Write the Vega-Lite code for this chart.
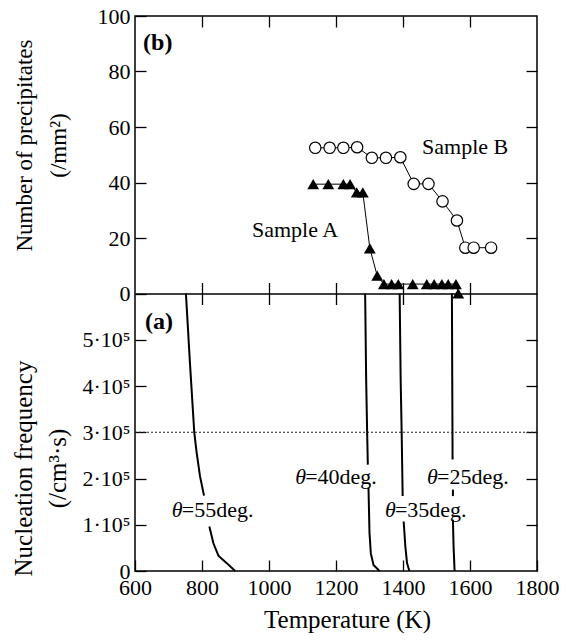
{
  "$schema": "https://vega.github.io/schema/vega-lite/v6.json",
  "autosize": {"type": "none"},
  "width": 402,
  "height": 555,
  "padding": {"left": 135, "top": 16, "right": 33, "bottom": 70},
  "background": "white",
  "config": {
    "font": "Liberation Serif",
    "view": {"stroke": "black", "strokeWidth": 1.5},
    "axis": {
      "grid": false,
      "labelColor": "black",
      "titleColor": "black",
      "tickColor": "black",
      "domainColor": "black",
      "labelFontSize": 22,
      "titleFontSize": 23,
      "titleFontWeight": "normal",
      "tickWidth": 1.3,
      "domain": false,
      "labelOverlap": false,
      "labelFlush": false
    }
  },
  "datasets": {
    "sampleB": [
      {"T": 1138, "n": 52.5}, {"T": 1181, "n": 52.5}, {"T": 1222, "n": 52.5}, {"T": 1263, "n": 52.7},
      {"T": 1307, "n": 48.9}, {"T": 1349, "n": 48.9}, {"T": 1392, "n": 49.1}, {"T": 1432, "n": 39.5},
      {"T": 1476, "n": 39.5}, {"T": 1518, "n": 33.2}, {"T": 1561, "n": 26.3}, {"T": 1586, "n": 16.5},
      {"T": 1611, "n": 16.5}, {"T": 1663, "n": 16.5}
    ],
    "sampleA": [
      {"T": 1132, "n": 39.4}, {"T": 1177, "n": 39.4}, {"T": 1222, "n": 39.4}, {"T": 1242, "n": 39.4},
      {"T": 1262, "n": 36.4}, {"T": 1280, "n": 36.4}, {"T": 1301, "n": 16.3}, {"T": 1323, "n": 6.4},
      {"T": 1343, "n": 3.4}, {"T": 1366, "n": 3.4}, {"T": 1386, "n": 3.4}, {"T": 1429, "n": 3.4},
      {"T": 1471, "n": 3.4}, {"T": 1493, "n": 3.4}, {"T": 1516, "n": 3.4}, {"T": 1535, "n": 3.4},
      {"T": 1558, "n": 3.4}, {"T": 1565, "n": 0}
    ],
    "curves": [
      {"seg": "55a", "T": 752, "f": 600000}, {"seg": "55a", "T": 764, "f": 450000}, {"seg": "55a", "T": 777, "f": 299000},
      {"seg": "55a", "T": 784, "f": 256000}, {"seg": "55a", "T": 794, "f": 205000}, {"seg": "55a", "T": 806, "f": 163000},
      {"seg": "55b", "T": 822, "f": 96000}, {"seg": "55b", "T": 834, "f": 60000}, {"seg": "55b", "T": 849, "f": 33000},
      {"seg": "55b", "T": 874, "f": 17000}, {"seg": "55b", "T": 899, "f": 0},
      {"seg": "40a", "T": 1287, "f": 600000}, {"seg": "40a", "T": 1290, "f": 415000}, {"seg": "40a", "T": 1293, "f": 299000},
      {"seg": "40a", "T": 1295, "f": 230000},
      {"seg": "40b", "T": 1297, "f": 180000}, {"seg": "40b", "T": 1300, "f": 82000}, {"seg": "40b", "T": 1304, "f": 38000},
      {"seg": "40b", "T": 1312, "f": 13000}, {"seg": "40b", "T": 1330, "f": 0},
      {"seg": "35a", "T": 1390, "f": 600000}, {"seg": "35a", "T": 1393, "f": 415000}, {"seg": "35a", "T": 1396, "f": 299000},
      {"seg": "35a", "T": 1399, "f": 162000},
      {"seg": "35b", "T": 1402, "f": 107000}, {"seg": "35b", "T": 1407, "f": 53000}, {"seg": "35b", "T": 1412, "f": 17000},
      {"seg": "35b", "T": 1419, "f": 0},
      {"seg": "25a", "T": 1546, "f": 600000}, {"seg": "25a", "T": 1547, "f": 415000}, {"seg": "25a", "T": 1548, "f": 241000},
      {"seg": "25b", "T": 1549, "f": 176000}, {"seg": "25b", "T": 1549, "f": 162000},
      {"seg": "25c", "T": 1549, "f": 111000}, {"seg": "25c", "T": 1551, "f": 53000}, {"seg": "25c", "T": 1554, "f": 0}
    ],
    "topLabels": [
      {"T": 1457, "n": 52.8, "label": "Sample B"},
      {"T": 949, "n": 22.9, "label": "Sample A"}
    ],
    "thetaLabels": [
      {"T": 710, "f": 132000, "label": "=55deg."},
      {"T": 1078, "f": 203000, "label": "=40deg."},
      {"T": 1346, "f": 132000, "label": "=35deg."},
      {"T": 1472, "f": 203000, "label": "=25deg."}
    ],
    "panelB": [{"T": 624, "n": 90.3, "label": "(b)"}],
    "panelA": [{"T": 630, "f": 538000, "label": "(a)"}],
    "refLine": [{"f": 300000}]
  },
  "layer": [
    {
      "data": {"name": "refLine"},
      "mark": {"type": "rule", "strokeDash": [2, 2], "strokeWidth": 1, "color": "#222"},
      "encoding": {
        "y": {"field": "f", "type": "quantitative", "scale": {"domain": [0, 1200000], "nice": false},
          "axis": {"orient": "right", "values": [100000, 200000, 300000, 400000, 500000], "labels": false, "tickSize": -11, "title": null}}
      }
    },
    {
      "data": {"name": "curves"},
      "mark": {"type": "line", "color": "black", "strokeWidth": 2},
      "encoding": {
        "x": {"field": "T", "type": "quantitative", "scale": {"domain": [600, 1800], "nice": false, "zero": false},
          "axis": {"orient": "bottom", "offset": -277.5, "values": [800, 1000, 1200, 1400, 1600], "labels": false, "tickSize": 11, "domain": true, "domainWidth": 1.5, "title": null}},
        "y": {"field": "f", "type": "quantitative", "scale": {"domain": [0, 1200000], "nice": false},
          "axis": {"orient": "left", "values": [0, 100000, 200000, 300000, 400000, 500000], "tickSize": -11, "labelPadding": 16,
            "labelExpr": "datum.value == 0 ? '0' : format(datum.value / 100000, 'd') + '·10⁵'",
            "title": ["Nucleation frequency", "(/cm³·s)"], "titleFontSize": 25, "titleX": -99, "titleY": 452, "titleBaseline": "bottom", "titleLineHeight": 34, "titleAlign": "center", "titleAngle": -90}},
        "detail": {"field": "seg"},
        "order": {"field": "f", "sort": "descending"}
      }
    },
    {
      "data": {"name": "sampleB"},
      "mark": {"type": "line", "color": "black", "strokeWidth": 1,
        "point": {"filled": false, "fill": "white", "stroke": "black", "size": 130, "strokeWidth": 1.2, "opacity": 1}},
      "encoding": {
        "x": {"field": "T", "type": "quantitative", "scale": {"domain": [600, 1800], "nice": false, "zero": false},
          "axis": {"orient": "bottom", "values": [600, 800, 1000, 1200, 1400, 1600, 1800], "format": "d", "tickSize": -11, "labelPadding": 17,
            "title": "Temperature (K)", "titleFontSize": 25, "titleX": 212, "titleY": 56, "titleBaseline": "alphabetic", "titleAnchor": "middle", "titleAlign": "center"}},
        "y": {"field": "n", "type": "quantitative", "scale": {"domain": [-100, 100], "nice": false},
          "axis": {"orient": "left", "values": [0, 20, 40, 60, 80, 100], "tickSize": -11, "labelPadding": 16,
            "title": ["Number of precipitates", "(/mm²)"], "titleX": -99, "titleY": 129, "titleBaseline": "bottom", "titleLineHeight": 34, "titleAlign": "center", "titleAngle": -90}}
      }
    },
    {
      "data": {"name": "sampleA"},
      "mark": {"type": "line", "color": "black", "strokeWidth": 1,
        "point": {"shape": "triangle-up", "filled": true, "size": 140, "color": "black"}},
      "encoding": {
        "x": {"field": "T", "type": "quantitative", "scale": {"domain": [600, 1800], "nice": false, "zero": false},
          "axis": {"orient": "top", "values": [800, 1000, 1200, 1400, 1600], "labels": false, "tickSize": -11, "title": null}},
        "y": {"field": "n", "type": "quantitative", "scale": {"domain": [-100, 100], "nice": false},
          "axis": {"orient": "right", "values": [20, 40, 60, 80], "labels": false, "tickSize": -11, "title": null}}
      }
    },
    {
      "data": {"name": "topLabels"},
      "mark": {"type": "text", "align": "left", "baseline": "middle", "fontSize": 22, "color": "black"},
      "encoding": {
        "x": {"field": "T", "type": "quantitative", "scale": {"domain": [600, 1800], "nice": false, "zero": false},
          "axis": {"orient": "top", "offset": -277.5, "values": [800, 1000, 1200, 1400, 1600], "labels": false, "tickSize": 11, "title": null}},
        "y": {"field": "n", "type": "quantitative", "scale": {"domain": [-100, 100], "nice": false}, "axis": null},
        "text": {"field": "label"}
      }
    },
    {
      "data": {"name": "thetaLabels"},
      "mark": {"type": "text", "align": "left", "baseline": "middle", "fontSize": 22, "fontStyle": "italic", "color": "black"},
      "encoding": {
        "x": {"field": "T", "type": "quantitative", "scale": {"domain": [600, 1800], "nice": false, "zero": false}, "axis": null},
        "y": {"field": "f", "type": "quantitative", "scale": {"domain": [0, 1200000], "nice": false}, "axis": null},
        "text": {"value": "θ"}
      }
    },
    {
      "data": {"name": "thetaLabels"},
      "mark": {"type": "text", "align": "left", "baseline": "middle", "fontSize": 22, "dx": 10, "color": "black"},
      "encoding": {
        "x": {"field": "T", "type": "quantitative", "scale": {"domain": [600, 1800], "nice": false, "zero": false}, "axis": null},
        "y": {"field": "f", "type": "quantitative", "scale": {"domain": [0, 1200000], "nice": false}, "axis": null},
        "text": {"field": "label"}
      }
    },
    {
      "data": {"name": "panelB"},
      "mark": {"type": "text", "align": "left", "baseline": "middle", "fontSize": 24, "fontWeight": "bold", "color": "black"},
      "encoding": {
        "x": {"field": "T", "type": "quantitative", "scale": {"domain": [600, 1800], "nice": false, "zero": false}, "axis": null},
        "y": {"field": "n", "type": "quantitative", "scale": {"domain": [-100, 100], "nice": false}, "axis": null},
        "text": {"field": "label"}
      }
    },
    {
      "data": {"name": "panelA"},
      "mark": {"type": "text", "align": "left", "baseline": "middle", "fontSize": 24, "fontWeight": "bold", "color": "black"},
      "encoding": {
        "x": {"field": "T", "type": "quantitative", "scale": {"domain": [600, 1800], "nice": false, "zero": false}, "axis": null},
        "y": {"field": "f", "type": "quantitative", "scale": {"domain": [0, 1200000], "nice": false}, "axis": null},
        "text": {"field": "label"}
      }
    }
  ],
  "resolve": {
    "scale": {"x": "independent", "y": "independent"},
    "axis": {"x": "independent", "y": "independent"}
  }
}
